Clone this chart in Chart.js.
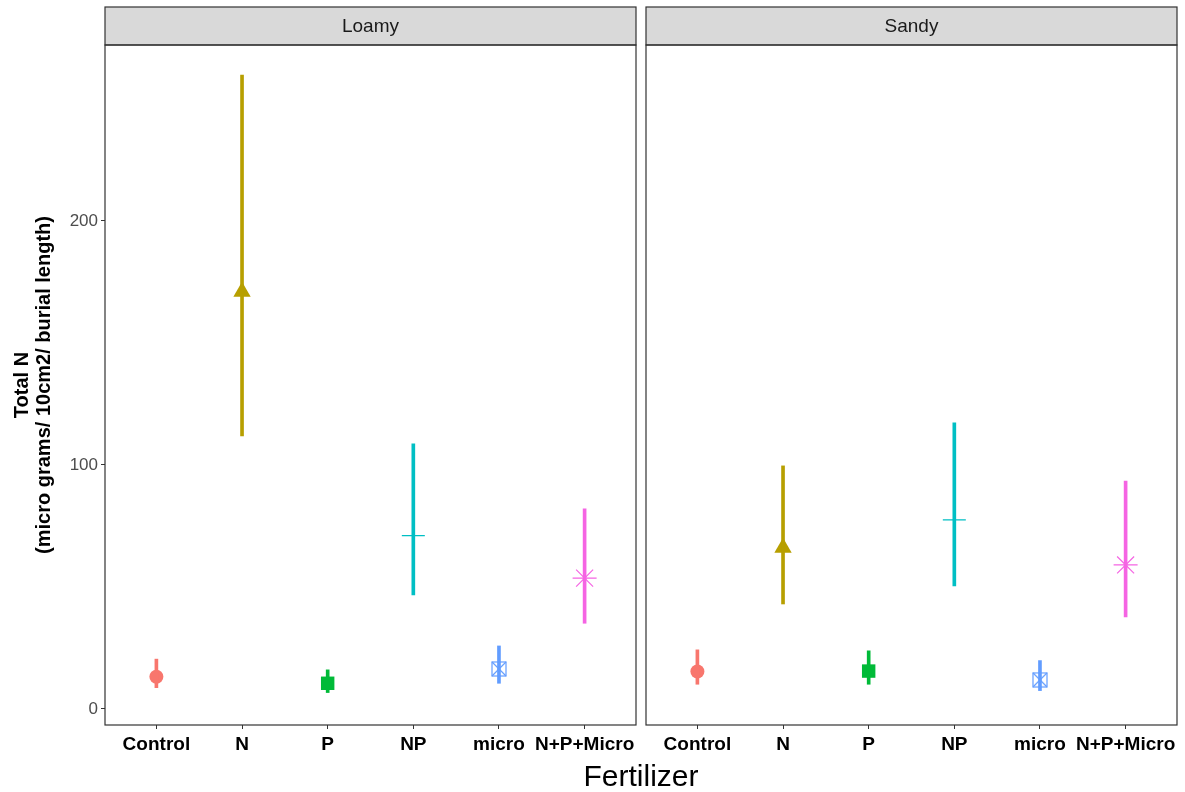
<!DOCTYPE html>
<html>
<head>
<meta charset="utf-8">
<title>Total N by fertilizer</title>
<script src="https://cdn.jsdelivr.net/npm/chart.js@4.4.1/dist/chart.umd.min.js"></script>
<style>
  body { margin: 0; background: #fff; }
  #wrap { position: relative; width: 1185px; height: 792px; overflow: hidden; }
  canvas { position: absolute; top: 0; }
  #loamy { left: 0; }
  #sandy { left: 640px; }
  #xtitle {
    position: absolute; left: 105px; width: 1072px; top: 761px;
    text-align: center; font: 30px/30px "Liberation Sans", Arial, sans-serif; color: #000;
  }
</style>
</head>
<body>
<div id="wrap">
  <canvas id="loamy" width="640" height="792"></canvas>
  <canvas id="sandy" width="545" height="792"></canvas>
  <div id="xtitle">Fertilizer</div>
</div>
<script>
// categories
const fertilizers = ['Control', 'N', 'P', 'NP', 'micro', 'N+P+Micro'];
const soils = ['Loamy', 'Sandy'];

// mean and interval (low / high) per fertilizer, Loamy soil
const loamyMean = [13.2, 171.0, 10.5, 71.0, 16.4, 53.6];
const loamyLow  = [8.7, 111.9, 6.7, 46.7, 10.5, 35.1];
const loamyHigh = [20.4, 259.8, 16.0, 108.6, 25.8, 82.0];

// same for Sandy soil
const sandyMean = [15.3, 66.0, 15.5, 77.5, 11.9, 59.0];
const sandyLow  = [10.1, 43.0, 10.1, 50.4, 7.5, 37.7];
const sandyHigh = [24.2, 99.6, 23.8, 117.2, 19.8, 93.4];

const yTicks = [0, 100, 200];

// ggplot default hue palette, one colour per fertilizer
const hue = ['#F8766D', '#B79F00', '#00BA38', '#00BFC4', '#619CFF', '#F564E3'];
const FONT = '"Liberation Sans", Arial, sans-serif';
Chart.defaults.font.family = FONT;

// open square with an X inside (no built-in point style for it)
function boxX(color) {
  const c = document.createElement('canvas');
  c.width = 16; c.height = 16;
  const g = c.getContext('2d');
  g.strokeStyle = color;
  g.lineWidth = 1.2;
  g.strokeRect(1, 1, 14, 14);
  g.beginPath();
  g.moveTo(1, 1); g.lineTo(15, 15);
  g.moveTo(15, 1); g.lineTo(1, 15);
  g.stroke();
  return c;
}

const shapes = ['circle', 'triangle', 'rect', 'cross', boxX(hue[4]), 'star'];
const radii = [7, 10, 9.5, 11.5, 8, 12];
const strokeW = [0, 0, 0, 1.3, 0, 1.2];

// grey strip header + panel border
const facetFrame = {
  id: 'facetFrame',
  afterDraw(chart, args, opts) {
    const { ctx, chartArea: a } = chart;
    const top = 7;
    ctx.save();
    ctx.fillStyle = '#D9D9D9';
    ctx.fillRect(a.left, top, a.right - a.left, a.top - top);
    ctx.strokeStyle = '#333333';
    ctx.lineWidth = 1.2;
    ctx.strokeRect(a.left, top, a.right - a.left, a.top - top);
    ctx.strokeRect(a.left, a.top, a.right - a.left, a.bottom - a.top);
    ctx.fillStyle = '#1A1A1A';
    ctx.font = '19px ' + FONT;
    ctx.textAlign = 'center';
    ctx.textBaseline = 'middle';
    ctx.fillText(opts.label, (a.left + a.right) / 2, (top + a.top) / 2 + 1);
    ctx.restore();
  }
};

function drawPanel(canvasId, soil, mean, low, high, showY) {
  const idx = fertilizers.map((f, i) => i);
  const ctx = document.getElementById(canvasId).getContext('2d');

  return new Chart(ctx, {
    type: 'bar',
    data: {
      datasets: [{
        // vertical interval lines
        type: 'bar',
        order: 0,
        data: idx.map(i => ({ x: i, y: [low[i], high[i]] })),
        backgroundColor: hue,
        borderWidth: 0,
        barThickness: 3
      }, {
        // mean markers
        type: 'scatter',
        order: 1,
        data: idx.map(i => ({ x: i, y: mean[i] })),
        pointStyle: shapes,
        pointRadius: radii,
        backgroundColor: hue,
        borderColor: hue,
        borderWidth: strokeW
      }]
    },
    options: {
      responsive: false,
      animation: false,
      events: [],
      layout: {
        autoPadding: false,
        padding: showY ? { left: 0, right: 4, top: 45, bottom: 0 }
                       : { left: 6, right: 8, top: 45, bottom: 0 }
      },
      plugins: {
        legend: { display: false },
        tooltip: { enabled: false },
        facetFrame: { label: soil }
      },
      scales: {
        x: {
          type: 'linear',
          offset: false,
          min: -0.6,
          max: 5.6,
          afterBuildTicks: s => { s.ticks = idx.map(v => ({ value: v })); },
          afterFit: s => { s.height = 67; s.paddingLeft = 0; s.paddingRight = 0; },
          border: { display: false },
          grid: { offset: false, drawOnChartArea: false, drawTicks: true, tickLength: 4, color: '#333333' },
          ticks: {
            autoSkip: false,
            maxRotation: 0,
            padding: 4,
            color: '#000',
            font: { size: 19, weight: 'bold' },
            callback: v => fertilizers[v]
          }
        },
        y: {
          display: showY,
          min: -6.6,
          max: 272.1,
          afterBuildTicks: s => { s.ticks = yTicks.map(v => ({ value: v })); },
          afterFit: s => { s.width = showY ? 105 : 0; },
          border: { display: false },
          grid: { drawOnChartArea: false, drawTicks: true, tickLength: 4, color: '#333333' },
          ticks: { padding: 3, color: '#4D4D4D', font: { size: 17 } },
          title: {
            display: true,
            text: ['Total N', '(micro grams/ 10cm2/ burial length)'],
            color: '#000',
            font: { size: 20, weight: 'bold', lineHeight: 1.1 },
            padding: { top: 11, bottom: 0 }
          }
        }
      }
    },
    plugins: [facetFrame]
  });
}

drawPanel('loamy', soils[0], loamyMean, loamyLow, loamyHigh, true);
drawPanel('sandy', soils[1], sandyMean, sandyLow, sandyHigh, false);
</script>
</body>
</html>
